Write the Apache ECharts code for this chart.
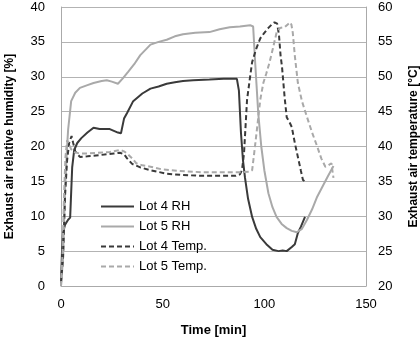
<!DOCTYPE html>
<html>
<head>
<meta charset="utf-8">
<script src="https://cdn.jsdelivr.net/npm/echarts@6/dist/echarts.min.js"></script>
<style>
  html, body { margin: 0; padding: 0; background: #fff; }
  #main { width: 420px; height: 338px; }
</style>
</head>
<body>
<div id="main"></div>
<script>
// Lot 4 RH [%]
var lot4RhTime = [0, 0.5, 1, 2, 3.5, 4.5, 5.5, 6.5, 8, 10, 13, 16, 19, 24, 28, 29.5, 31, 32.5, 35.5, 40, 44, 48, 52, 56, 60, 65, 73, 80, 86.5, 87.5, 88.5, 89.5, 90.5, 92, 94, 96, 98, 101, 104, 107, 109, 111, 113.5, 115, 116.5, 118, 120];
var lot4Rh = [0.5, 5, 7.6, 8.8, 9.5, 9.8, 17, 19.5, 20.5, 21.2, 22, 22.7, 22.5, 22.5, 22, 21.9, 24, 24.8, 26.5, 27.6, 28.3, 28.6, 29.0, 29.2, 29.4, 29.5, 29.6, 29.7, 29.7, 28, 22, 18, 15.5, 12.5, 9.9, 8.2, 7, 6, 5.2, 5.0, 5.1, 5.0, 5.6, 6, 7.6, 8.5, 9.9];

// Lot 5 RH [%]
var lot5RhTime = [0, 1, 2, 3, 3.5, 5, 7, 9.3, 13, 16, 20, 22.5, 25, 28, 30.5, 33, 36, 39, 42, 44, 48, 52, 56, 60, 66, 73, 78, 83, 88, 93, 94.5, 95.5, 97, 98.5, 100, 102, 104, 106, 108.5, 111, 113.5, 116, 118.5, 121, 123.5, 126, 128.5, 131, 134];
var lot5Rh = [0, 4, 14, 20, 22.4, 26.5, 27.7, 28.4, 28.8, 29.1, 29.4, 29.5, 29.3, 29.0, 29.8, 30.7, 31.8, 33.1, 34.0, 34.6, 35.0, 35.3, 35.8, 36.1, 36.3, 36.4, 36.8, 37.1, 37.2, 37.4, 37.2, 32, 24.8, 20, 16.6, 13.3, 11.3, 9.9, 8.9, 8.3, 7.9, 7.7, 8.2, 9.5, 11, 12.8, 14.2, 15.6, 17.2];

// Lot 4 temperature [°C]
var lot4TempTime = [0, 1, 2, 3, 4, 5.2, 6, 7, 9.3, 13, 20, 26, 29, 31, 32.5, 35, 39, 44, 52, 60, 70, 80, 86, 88, 89, 90, 91.5, 93, 94, 96, 98, 100, 102, 104, 105, 106.3, 107.2, 108, 108.7, 110, 111, 112.5, 113.5, 115, 116.5, 118, 119, 120];
var lot4Temp = [20.5, 24, 33, 38, 40.5, 41.5, 40.5, 39.3, 38.5, 38.6, 38.8, 39, 39.1, 38.9, 38.3, 37.5, 37, 36.6, 36.1, 35.9, 35.8, 35.8, 35.8, 36.0, 36.6, 39, 46.7, 50, 52.1, 54, 55.5, 56.3, 57, 57.6, 57.8, 57.6, 56, 53, 51.4, 47, 44.2, 43.4, 42.8, 40.5, 38.5, 36.5, 35.2, 35];

// Lot 5 temperature [°C]
var lot5TempTime = [0, 0.8, 1.5, 2.2, 3, 4, 5, 6.5, 9, 12.8, 18, 24, 29, 31, 32.5, 35, 37, 40, 44, 50, 58, 70, 80, 88, 93, 94, 95, 96.5, 98, 99.5, 101, 102.5, 104, 106, 107.7, 110, 111.5, 112.6, 113.3, 114, 115, 116.5, 118.5, 121, 123.5, 126, 128, 130, 131.5, 133, 133.5, 134];
var lot5Temp = [20, 25, 33, 38.5, 40.9, 40.3, 39.6, 39.2, 39.0, 39.0, 39.1, 39.2, 39.5, 39.3, 39.0, 38.3, 37.6, 37.3, 37.1, 36.7, 36.5, 36.3, 36.3, 36.3, 36.4, 36.6, 39, 42.8, 46.7, 49.1, 50.5, 52, 53.8, 56.3, 57, 57.1, 57.5, 57.8, 57.5, 56.3, 53, 49.1, 46.5, 44.2, 42, 40, 38.3, 37.1, 37.3, 37.6, 36.5, 35.5];

var timeTicks = [0, 50, 100, 150];
var rhTicks = [0, 40, 5];
var tempTicks = [20, 60, 5];

function pairs(xs, ys) {
  var out = [];
  for (var i = 0; i < xs.length; i++) out.push([xs[i], ys[i]]);
  return out;
}

var font = "Liberation Sans, Arial, sans-serif";
var dark = "#3a3a3a";
var light = "#a9a9a9";

var chart = echarts.init(document.getElementById("main"));
chart.setOption({
  animation: false,
  grid: { left: 61, right: 54, top: 7, bottom: 52, outerBoundsMode: "none", containLabel: false },
  legend: {
    orient: "vertical",
    left: 95,
    top: 195,
    itemWidth: 33,
    itemHeight: 14,
    itemGap: 7,
    itemStyle: { opacity: 0 },
    textStyle: { fontFamily: font, fontSize: 13, color: "#000" },
    data: ["Lot 4 RH", "Lot 5 RH", "Lot 4 Temp.", "Lot 5 Temp."]
  },
  xAxis: {
    type: "value",
    min: timeTicks[0],
    max: timeTicks[timeTicks.length - 1],
    interval: 50,
    name: "Time [min]",
    nameLocation: "middle",
    nameGap: 38,
    nameTextStyle: { fontFamily: font, fontSize: 13, fontWeight: "bold", color: "#000" },
    axisLine: { show: true, lineStyle: { color: "#aaa", width: 1 } },
    axisTick: { show: false },
    axisLabel: { fontFamily: font, fontSize: 13, color: "#000", margin: 12 },
    splitLine: { show: false }
  },
  yAxis: [
    {
      type: "value",
      min: rhTicks[0],
      max: rhTicks[1],
      interval: rhTicks[2],
      name: "Exhaust air relative humidity [%]",
      nameLocation: "middle",
      nameRotate: 90,
      nameGap: 45,
      nameTextStyle: { fontFamily: font, fontSize: 12, fontWeight: "bold", color: "#000" },
      axisLine: { show: true, lineStyle: { color: "#aaa", width: 1 } },
      axisTick: { show: false },
      axisLabel: { fontFamily: font, fontSize: 13, color: "#000", margin: 16 },
      splitLine: { show: true, lineStyle: { color: "#b3b3b3", width: 1 } }
    },
    {
      type: "value",
      position: "right",
      min: tempTicks[0],
      max: tempTicks[1],
      interval: tempTicks[2],
      name: "Exhaust air temperature [°C]",
      nameLocation: "middle",
      nameRotate: 90,
      nameGap: 42,
      nameTextStyle: { fontFamily: font, fontSize: 12, fontWeight: "bold", color: "#000" },
      axisLine: { show: true, lineStyle: { color: "#aaa", width: 1 } },
      axisTick: { show: false },
      axisLabel: { fontFamily: font, fontSize: 13, color: "#000", margin: 12 },
      splitLine: { show: false }
    }
  ],
  series: [
    {
      name: "Lot 4 RH", type: "line", yAxisIndex: 0, symbol: "none",
      lineStyle: { color: dark, width: 2 }, itemStyle: { color: dark },
      data: pairs(lot4RhTime, lot4Rh)
    },
    {
      name: "Lot 5 RH", type: "line", yAxisIndex: 0, symbol: "none",
      lineStyle: { color: light, width: 2 }, itemStyle: { color: light },
      data: pairs(lot5RhTime, lot5Rh)
    },
    {
      name: "Lot 4 Temp.", type: "line", yAxisIndex: 1, symbol: "none",
      lineStyle: { color: dark, width: 2, type: [5, 3] }, itemStyle: { color: dark },
      data: pairs(lot4TempTime, lot4Temp)
    },
    {
      name: "Lot 5 Temp.", type: "line", yAxisIndex: 1, symbol: "none",
      lineStyle: { color: light, width: 2, type: [5, 3] }, itemStyle: { color: light },
      data: pairs(lot5TempTime, lot5Temp)
    }
  ]
});
</script>
</body>
</html>
